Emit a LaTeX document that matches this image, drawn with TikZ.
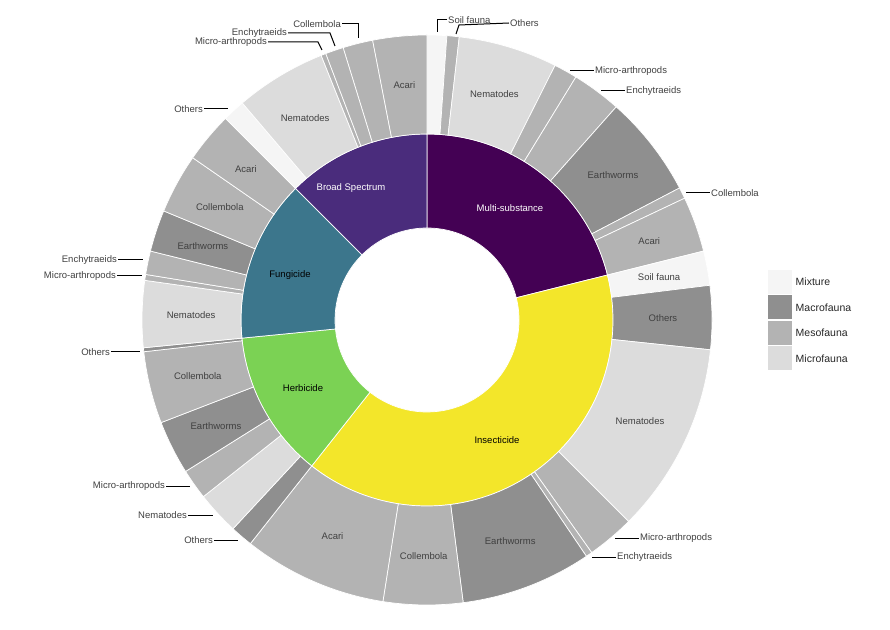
\documentclass[tikz,border=0pt]{standalone}
\usepackage{fontspec}
\setmainfont{Liberation Sans}
\usepackage{xcolor}
\definecolor{mixture}{HTML}{F5F5F5}
\definecolor{macro}{HTML}{8F8F8F}
\definecolor{meso}{HTML}{B3B3B3}
\definecolor{micro}{HTML}{DCDCDC}
\definecolor{multi}{HTML}{440154}
\definecolor{broad}{HTML}{4A2C7C}
\definecolor{fungi}{HTML}{3C768C}
\definecolor{herbi}{HTML}{7BD254}
\definecolor{insect}{HTML}{F3E62A}
\newcommand{\sector}[5]{\filldraw[fill=#5,draw=white,line width=.7pt]
  ({90-(#1)}:#3) arc[start angle={90-(#1)},end angle={90-(#2)},radius=#3]
  -- ({90-(#2)}:#4) arc[start angle={90-(#2)},end angle={90-(#1)},radius=#4] -- cycle;}
\begin{document}
\begin{tikzpicture}[x=1pt,y=1pt,
  lab/.style={font=\fontsize{9.5}{11}\selectfont,text=black!75,inner sep=1pt},
  lead/.style={draw=black,line width=1pt},
  legbox/.style={minimum size=24pt,inner sep=0pt}]
\useasboundingbox (0,0) rectangle (890,629);
\begin{scope}[shift={(427,309)}]
  % inner ring
  \foreach \angA/\angB/\colr in {0/76/multi,76/218.3/insect,218.3/264.4/herbi,264.4/315/fungi,315/360/broad}
    {\sector{\angA}{\angB}{92}{186}{\colr}}
  % outer ring
  \foreach \angA/\angB/\colr/\labtext in {0/4/mixture/{},4/6.5/meso/{},6.5/26.7/micro/Nematodes,26.7/31.5/meso/{},
      31.5/41.6/meso/{},41.6/62.4/macro/Earthworms,62.4/64.7/meso/{},64.7/76/meso/Acari,
      76/83/mixture/Soil fauna,83/96/macro/Others,96/135/micro/Nematodes,135/144.7/meso/{},
      144.7/146/meso/{},146/172.7/macro/Earthworms,172.7/188.9/meso/Collembola,188.9/218.3/meso/Acari,
      218.3/222.9/macro/{},222.9/231.7/micro/{},231.7/237.9/meso/{},237.9/248.9/macro/Earthworms,
      248.9/263.6/meso/Collembola,263.6/264.4/macro/{},264.4/278/micro/Nematodes,278/279.2/meso/{},
      279.2/284/meso/{},284/292.5/macro/Earthworms,292.5/304.7/meso/Collembola,304.7/315/meso/Acari,
      315/319.6/mixture/{},319.6/338.2/micro/Nematodes,338.2/339.2/meso/{},339.2/342.9/meso/{},
      342.9/349/meso/{},349/360/meso/Acari}
  {
    \sector{\angA}{\angB}{186}{285}{\colr}
    \node[lab] at ({90-(\angA+\angB)/2}:236) {\labtext};
  }
\end{scope}
% inner labels
\node[lab,text=white] (multi) at (510,421) {Multi-substance};
\node[lab,text=white] (broad) at (351,441) {Broad Spectrum};
\node[lab,text=black] (fungi) at (290,354) {Fungicide};
\node[lab,text=black] (herbi) at (303,241) {Herbicide};
\node[lab,text=black] (insect) at (497,189) {Insecticide};
% leader labels, top
\node[lab,anchor=west] (soilT) at (447,609) {Soil fauna};
\draw[lead] (437,597) |- (soilT.west);
\node[lab,anchor=west] (othT) at (509,606) {Others};
\draw[lead] (456,595) -- (459,604) -- (othT.west);
\node[lab,anchor=west] (microT) at (594,558) {Micro-arthropods};
\draw[lead] (570,558) -- (microT.west);
\node[lab,anchor=west] (enchT) at (625,538) {Enchytraeids};
\draw[lead] (601,538) -- (enchT.west);
\node[lab,anchor=west] (collT) at (710,436) {Collembola};
\draw[lead] (686,436) -- (collT.west);
% leader labels, lower right
\node[lab,anchor=west] (microR) at (639,91) {Micro-arthropods};
\draw[lead] (615,91) -- (microR.west);
\node[lab,anchor=west] (enchR) at (616,72) {Enchytraeids};
\draw[lead] (592,72) -- (enchR.west);
% leader labels, left
\node[lab,anchor=east] (othL) at (111,277) {Others};
\draw[lead] (othL.east) -- (140,277);
\node[lab,anchor=east] (microL) at (166,143) {Micro-arthropods};
\draw[lead] (microL.east) -- (190,143);
\node[lab,anchor=east] (nemL) at (188,114) {Nematodes};
\draw[lead] (nemL.east) -- (213,114);
\node[lab,anchor=east] (othB) at (214,89) {Others};
\draw[lead] (othB.east) -- (238,89);
\node[lab,anchor=east] (enchL) at (118,369) {Enchytraeids};
\draw[lead] (enchL.east) -- (143,369);
\node[lab,anchor=east] (microU) at (117,353) {Micro-arthropods};
\draw[lead] (microU.east) -- (142,353);
\node[lab,anchor=east] (othU) at (204,520) {Others};
\draw[lead] (othU.east) -- (228,520);
% leader labels, top left
\node[lab,anchor=east] (microTL) at (268,587) {Micro-arthropods};
\draw[lead] (microTL.east) -- (318,587) -- (322,579);
\node[lab,anchor=east] (enchTL) at (288,596) {Enchytraeids};
\draw[lead] (enchTL.east) -- (330,596) -- (335,583);
\node[lab,anchor=east] (collTL) at (342,605) {Collembola};
\draw[lead] (collTL.east) -- (358,605) -- (358,591);
% legend
\foreach \colr/\labtext [count=\i] in {mixture/Mixture,macro/Macrofauna,meso/Mesofauna,micro/Microfauna}
  \node[legbox,fill=\colr,label={[font=\fontsize{10.5}{12}\selectfont,text=black!85]right:\labtext}]
    (leg\i) at (780,{347-25.5*(\i-1)}) {};
\end{tikzpicture}
\end{document}
